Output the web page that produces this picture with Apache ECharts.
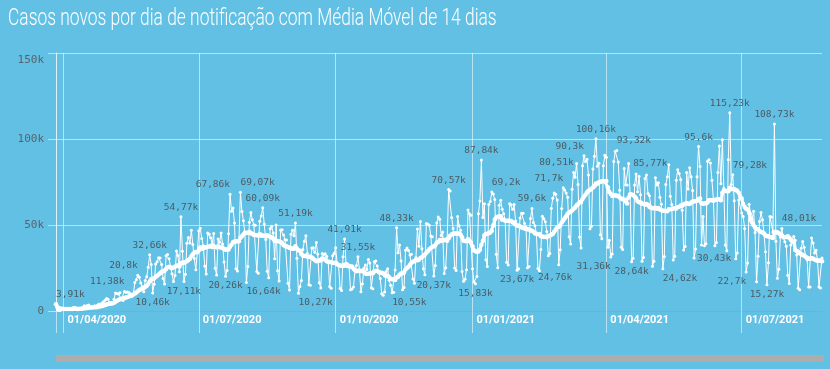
<!DOCTYPE html>
<html>
<head>
<meta charset="utf-8">
<script src="https://cdn.jsdelivr.net/npm/echarts@6/dist/echarts.min.js"></script>
<style>
html,body{margin:0;padding:0;background:#62c0e4;}
#chart{width:830px;height:369px;}
</style>
</head>
<body>
<div id="chart"></div>
<script>
// ---------- DATA ----------
const titleText = 'Casos novos por dia de notificação com Média Móvel de 14 dias';
const firstDay = [2020, 2, 27]; // 27/03/2020 (year, monthIndex, day)

// Daily new cases, in thousands, one row per week (Sun..Sat); first row starts Fri 27/03/2020
const dailyByWeek = [
  [3.91, 0.49],
  [0.35, 0.32, 1.14, 1.12, 1.21, 1.07, 1.15],
  [0.85, 0.93, 1.66, 2.21, 1.93, 1.78, 1.26],
  [1.24, 1.36, 1.83, 3.06, 2.11, 3.26, 3.42],
  [1.99, 1.93, 2.34, 3.01, 2.67, 3.5, 4.0],
  [3.38, 4.61, 5.39, 6.28, 7.22, 6.85, 4.97],
  [4.59, 4.08, 6.84, 10.5, 10.2, 9.89, 10.61],
  [6.8, 6.1, 11.38, 10.9, 11.1, 10.8, 10.0],
  [8.5, 9.8, 16.5, 18.2, 20.8, 19.6, 16.3],
  [14.1, 11.2, 17.8, 19.9, 25.4, 32.66, 27.1],
  [10.46, 15.6, 27.3, 28.6, 30.9, 30.8, 27.1],
  [18.9, 15.7, 32.1, 32.9, 30.4, 25.9, 21.7],
  [17.1, 20.6, 34.9, 32.2, 22.8, 54.77, 34.7],
  [17.11, 21.4, 39.4, 42.7, 39.5, 46.9, 38.7],
  [30.5, 24.0, 33.8, 46.7, 48.1, 42.2, 37.9],
  [26.1, 21.5, 45.3, 44.6, 42.6, 39.0, 45.0],
  [24.8, 20.9, 41.9, 39.9, 45.4, 39.0, 28.5],
  [20.26, 23.5, 44.9, 67.86, 58.0, 59.9, 51.1],
  [24.6, 23.3, 41.0, 69.07, 57.8, 52.4, 45.4],
  [16.64, 25.8, 51.6, 57.2, 53.1, 50.2, 49.9],
  [23.0, 22.0, 52.2, 55.2, 60.09, 50.6, 41.6],
  [23.1, 19.4, 47.8, 49.3, 45.3, 30.4, 50.0],
  [23.4, 17.5, 47.1, 47.2, 44.2, 41.4, 41.3],
  [16.2, 12.2, 44.6, 46.9, 43.8, 51.19, 30.6],
  [10.27, 14.3, 17.8, 35.8, 40.6, 43.7, 33.5],
  [15.2, 15.0, 36.6, 36.8, 34.1, 39.8, 33.1],
  [16.4, 13.4, 33.5, 32.8, 33.3, 31.9, 28.4],
  [14.3, 13.2, 32.1, 33.4, 36.8, 27.8, 26.3],
  [13.1, 11.9, 31.6, 41.91, 27.7, 27.4, 26.7],
  [12.3, 12.8, 13.9, 23.6, 26.4, 31.55, 24.1],
  [11.2, 15.8, 24.8, 26.7, 24.2, 30.0, 27.9],
  [13.5, 12.9, 28.6, 29.1, 26.1, 22.4, 18.9],
  [10.1, 9.1, 11.0, 23.0, 24.6, 17.9, 15.0],
  [10.55, 10.9, 23.9, 48.33, 33.9, 38.3, 29.1],
  [12.4, 13.6, 35.3, 36.7, 35.2, 32.5, 33.0],
  [18.6, 16.2, 31.1, 47.7, 37.6, 52.0, 36.2],
  [24.5, 21.1, 50.9, 50.4, 49.9, 43.6, 43.2],
  [20.37, 26.4, 51.1, 54.7, 53.4, 43.9, 45.9],
  [21.8, 25.2, 42.3, 70.57, 69.8, 54.4, 48.0],
  [25.0, 23.6, 55.0, 49.6, 46.9, 22.9, 17.3],
  [18.5, 24.0, 58.7, 56.6, 55.6, 24.6, 16.9],
  [15.83, 20.0, 56.6, 64.0, 87.84, 54.4, 62.3],
  [29.8, 25.8, 61.9, 63.6, 69.2, 68.0, 64.8],
  [33.0, 25.1, 61.5, 64.4, 59.1, 56.6, 52.4],
  [28.3, 26.8, 62.3, 61.8, 59.1, 61.9, 52.3],
  [23.67, 24.6, 54.1, 56.9, 56.8, 50.9, 48.7],
  [25.2, 25.9, 53.8, 59.6, 51.5, 49.5, 44.9],
  [24.76, 23.4, 35.7, 55.1, 53.6, 51.9, 46.2],
  [32.1, 33.4, 59.7, 65.5, 68.6, 67.9, 64.6],
  [26.9, 35.6, 59.6, 71.7, 70.3, 68.6, 66.1],
  [43.1, 39.0, 70.8, 80.51, 77.8, 85.7, 73.6],
  [43.0, 36.7, 84.5, 90.3, 86.98, 88.2, 79.1],
  [47.8, 49.3, 82.5, 89.99, 100.16, 84.2, 85.9],
  [44.3, 42.0, 84.5, 90.6, 89.4, 37.0, 41.2],
  [31.36, 33.2, 86.9, 92.7, 93.32, 86.6, 70.2],
  [37.0, 35.8, 82.9, 73.4, 73.2, 85.77, 67.9],
  [28.64, 30.6, 73.2, 79.7, 69.4, 78.4, 67.6],
  [28.9, 31.1, 77.1, 79.1, 68.3, 67.0, 60.7],
  [26.0, 28.9, 77.4, 73.3, 74.6, 66.2, 62.0],
  [24.62, 31.7, 73.5, 78.1, 85.0, 66.7, 61.9],
  [29.6, 31.9, 76.0, 82.1, 79.9, 76.5, 58.6],
  [35.5, 37.5, 80.5, 71.0, 83.3, 78.0, 70.0],
  [30.8, 36.0, 78.1, 95.6, 84.0, 38.3, 55.0],
  [37.9, 39.1, 87.0, 88.0, 86.0, 76.0, 65.0],
  [38.0, 39.8, 80.5, 96.0, 74.0, 99.5, 71.4],
  [38.3, 35.0, 88.0, 115.23, 73.6, 79.28, 64.1],
  [30.43, 33.7, 64.6, 65.2, 57.0, 55.0, 48.0],
  [22.7, 27.9, 62.0, 56.5, 53.3, 58.0, 45.6],
  [17.0, 31.8, 52.0, 57.2, 53.0, 45.1, 34.5],
  [15.27, 28.0, 55.0, 54.7, 46.0, 108.73, 40.5],
  [19.0, 24.3, 43.0, 48.01, 42.5, 40.3, 37.6],
  [20.8, 16.0, 38.4, 41.3, 43.3, 41.1, 32.6],
  [13.2, 12.4, 36.5, 40.4, 37.0, 31.6, 29.8],
  [14.0, 14.0, 42.5, 39.6, 33.7, 35.3, 29.4],
  [14.0, 13.4, 30.8]
];

// dates shown on the x axis (tick + label)
const quarterTicks = ['01/04/2020', '01/07/2020', '01/10/2020', '01/01/2021', '01/04/2021', '01/07/2021'];

// annotated peaks (label above) and lows (label below)
const peakLabelDates = ['27/03/2020', '12/05/2020', '21/05/2020', '29/05/2020', '19/06/2020', '22/07/2020',
  '29/07/2020', '13/08/2020', '04/09/2020', '07/10/2020', '16/10/2020', '11/11/2020', '16/12/2020',
  '07/01/2021', '14/01/2021', '10/02/2021', '03/03/2021', '10/03/2021', '17/03/2021', '25/03/2021',
  '08/04/2021', '16/04/2021', '02/06/2021', '23/06/2021', '25/06/2021', '23/07/2021', '28/07/2021'];
const lowLabelDates = ['31/05/2020', '21/06/2020', '19/07/2020', '02/08/2020', '06/09/2020', '08/11/2020',
  '06/12/2020', '03/01/2021', '31/01/2021', '14/02/2021', '04/04/2021', '18/04/2021', '09/05/2021',
  '27/06/2021', '04/07/2021', '18/07/2021'];

// ---------- STYLE / PLACEMENT ----------
const labelPlacement = {
  '27/03/2020': 'l', '12/05/2020': 'r', '21/05/2020': 'r', '22/07/2020': 'r', '29/07/2020': 'l',
  '14/01/2021': 'l', '03/03/2021': 'r', '10/03/2021': 'r', '17/03/2021': 'r', '08/04/2021': 'l',
  '16/04/2021': 'R', '25/06/2021': 'l', '28/07/2021': 'l',
  '02/08/2020': 'l', '06/09/2020': 'l', '08/11/2020': 'l', '14/02/2021': 'l', '04/04/2021': 'r',
  '09/05/2021': 'l', '27/06/2021': 'L', '04/07/2021': 'r'
};
const bg = '#62c0e4';
const gridColor = 'rgba(255,255,255,0.55)';
const labelColor = '#4b5b64';
const monoFont = 'DejaVu Sans Mono';

// ---------- BUILD ----------
const daily = dailyByWeek.flat();
const pad = n => (n < 10 ? '0' : '') + n;
const dates = daily.map((_, i) => {
  const d = new Date(Date.UTC(firstDay[0], firstDay[1], firstDay[2] + i));
  return pad(d.getUTCDate()) + '/' + pad(d.getUTCMonth() + 1) + '/' + d.getUTCFullYear();
});
// 14-day trailing moving average of the daily values
const ma14 = daily.map((v, i) => {
  const w = daily.slice(Math.max(0, i - 13), i + 1);
  return Math.round(w.reduce((a, b) => a + b, 0) / w.length * 100) / 100;
});

const fmtK = v => {
  let s = v.toFixed(2).replace(/0+$/, '').replace(/\.$/, '');
  return s.replace('.', ',') + 'k';
};

function labelFor(date, isPeak) {
  const p = labelPlacement[date] || 'c';
  const lab = {
    show: true, color: labelColor, fontFamily: monoFont, fontSize: 9.5, distance: 3,
    position: isPeak ? 'top' : 'bottom', formatter: p2 => fmtK(p2.value)
  };
  if (p === 'r') { lab.align = 'right'; }
  if (p === 'l') { lab.align = 'left'; }
  if (p === 'L') { lab.position = 'left'; }
  if (p === 'R') { lab.position = 'right'; }
  return lab;
}

const dailyItems = daily.map((v, i) => {
  const d = dates[i];
  if (peakLabelDates.includes(d)) return { value: v, label: labelFor(d, true) };
  if (lowLabelDates.includes(d)) return { value: v, label: labelFor(d, false) };
  return v;
});

const tickAt = (i, v) => i === 0 || quarterTicks.includes(v);

const chart = echarts.init(document.getElementById('chart'), null, { renderer: 'canvas' });
chart.setOption({
  animation: false,
  backgroundColor: bg,
  graphic: [{
    type: 'text', left: 8, top: 7, scaleX: 0.725, silent: true,
    style: { text: titleText, fill: '#ffffff', font: '300 24px Roboto' }
  }],
  grid: { left: 56, right: 8, top: 53, bottom: 58, containLabel: false },
  xAxis: {
    type: 'category', data: dates, boundaryGap: false,
    axisLine: { show: true, lineStyle: { color: '#9aa4aa', width: 1 } },
    axisTick: { show: true, length: 22, interval: tickAt, lineStyle: { color: gridColor, width: 1 } },
    splitLine: { show: true, interval: tickAt, lineStyle: { color: gridColor, width: 1 } },
    axisLabel: {
      interval: (i, v) => quarterTicks.includes(v),
      align: 'left', padding: [0, 0, 0, 4], margin: 4,
      color: '#ffffff', fontFamily: 'Roboto', fontWeight: 'bold', fontSize: 11
    }
  },
  yAxis: {
    type: 'value', min: 0, max: 150, interval: 50,
    axisLine: { show: true, lineStyle: { color: gridColor } },
    axisTick: { show: true, length: 8, lineStyle: { color: gridColor } },
    splitLine: { show: true, lineStyle: { color: gridColor, width: 1 } },
    axisLabel: {
      margin: 12, color: '#55646c', fontFamily: monoFont, fontSize: 11,
      formatter: v => v === 150 ? '{t|150k}' : (v === 0 ? '0' : v + 'k'),
      rich: { t: { padding: [14, 0, 0, 0], color: '#55646c', fontFamily: monoFont, fontSize: 11 } }
    }
  },
  dataZoom: [{
    type: 'slider', xAxisIndex: 0, left: 55, right: 7, bottom: 7, height: 7,
    filterMode: 'none', zoomLock: true, showDetail: false, showDataShadow: false, brushSelect: false,
    borderColor: 'transparent', backgroundColor: 'transparent', fillerColor: '#adadad',
    handleSize: 0, handleStyle: { opacity: 0 }, moveHandleSize: 0,
    dataBackground: { lineStyle: { opacity: 0 }, areaStyle: { opacity: 0 } },
    selectedDataBackground: { lineStyle: { opacity: 0 }, areaStyle: { opacity: 0 } }
  }],
  series: [
    {
      type: 'line', name: 'Casos', data: dailyItems, z: 2,
      symbol: 'circle', symbolSize: 3, showAllSymbol: true,
      lineStyle: { color: '#ffffff', width: 1 }, itemStyle: { color: '#ffffff' },
      emphasis: { disabled: true }
    },
    {
      type: 'line', name: 'Média Móvel 14 dias', data: ma14, z: 3,
      symbol: 'circle', symbolSize: 4.5, showAllSymbol: true,
      lineStyle: { color: '#ffffff', width: 3 }, itemStyle: { color: '#ffffff' },
      emphasis: { disabled: true }
    }
  ]
});
</script>
</body>
</html>
